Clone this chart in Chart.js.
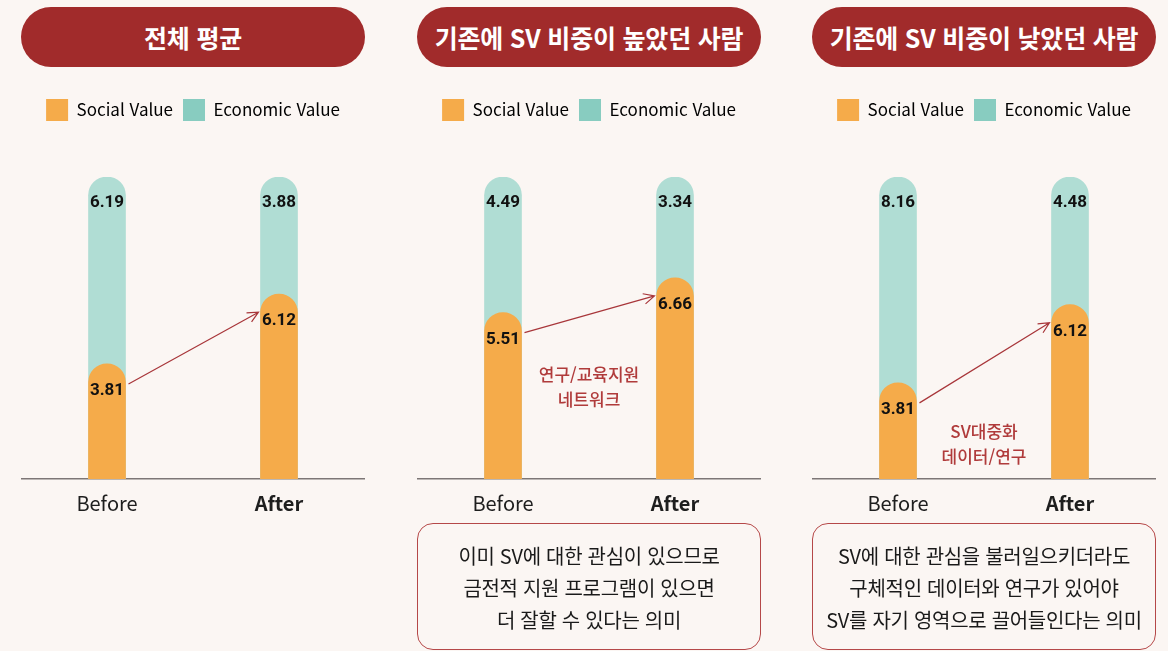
<!DOCTYPE html>
<html lang="ko">
<head>
<meta charset="utf-8">
<script src="https://cdn.jsdelivr.net/npm/chart.js@4.4.1/dist/chart.umd.min.js"></script>
<style>
  body { margin: 0; width: 1168px; height: 651px; overflow: hidden; position: relative; background: #fbf6f3; font-family: 'Noto Sans CJK KR', sans-serif; }
  .pill { position: absolute; top: 7px; width: 344px; height: 60px; border-radius: 30px; background: #a12b2b; color: #fff; font-weight: 700; font-size: 25px; letter-spacing: -0.2px; display: flex; align-items: center; justify-content: center; }
  .wrap { position: absolute; top: 89px; width: 344px; height: 436px; }
  .summary { position: absolute; top: 523px; width: 344px; height: 127px; box-sizing: border-box; border: 1.5px solid #b54848; border-radius: 16px; text-align: center; font-size: 20px; letter-spacing: -0.3px; line-height: 32px; color: #1a1a1a; padding-top: 16px; }
</style>
</head>
<body>
<script>
const categories = ['Before', 'After'];
const panelTitles = ['전체 평균', '기존에 SV 비중이 높았던 사람', '기존에 SV 비중이 낮았던 사람'];
const socialValues = [[3.81, 6.12], [5.51, 6.66], [3.81, 6.12]];
const economicValues = [[6.19, 3.88], [4.49, 3.34], [8.16, 4.48]];
const arrowNotes = [[], ['연구/교육지원', '네트워크'], ['SV대중화', '데이터/연구']];
const summaryLines = [
    [],
    ['이미 SV에 대한 관심이 있으므로', '금전적 지원 프로그램이 있으면', '더 잘할 수 있다는 의미'],
    ['SV에 대한 관심을 불러일으키더라도', '구체적인 데이터와 연구가 있어야', 'SV를 자기 영역으로 끌어들인다는 의미']
];

// layout only
const panelLeft = [21, 417, 812];
const noteLevel = [0, 0.345, 0.157];
const ORANGE = '#f5ab4a';
const TEAL = '#b0ddd4';
const TEAL_KEY = '#88ccc0';
const RED = '#a8363a';

// push the plot area down below the legend
const legendSpace = {
    id: 'legendSpace',
    beforeInit(chart) {
        const fit = chart.legend.fit;
        chart.legend.fit = function () {
            fit.call(this);
            this.height = 88;
        };
    }
};

function makeOverlay(p) {
    return {
        id: 'overlay' + p,
        afterDatasetsDraw(chart) {
            const ctx = chart.ctx;
            const social = chart.getDatasetMeta(0).data;
            const econ = chart.getDatasetMeta(1).data;
            ctx.save();
            ctx.font = 'bold 17px Roboto';
            ctx.fillStyle = '#111';
            ctx.textAlign = 'center';
            ctx.textBaseline = 'middle';
            social.forEach((bar, i) => {
                ctx.fillText(socialValues[p][i].toFixed(2), bar.x, bar.y + 27);
                ctx.fillText(economicValues[p][i].toFixed(2), econ[i].x, econ[i].y + 26);
            });

            // arrow Before -> After
            const a = social[0], b = social[1];
            const x1 = a.x + a.width / 2 + 3, y1 = a.y + 20;
            const x2 = b.x - b.width / 2 - 2, y2 = b.y + 18;
            const ang = Math.atan2(y2 - y1, x2 - x1);
            ctx.strokeStyle = RED;
            ctx.lineWidth = 1.2;
            ctx.beginPath();
            ctx.moveTo(x1, y1);
            ctx.lineTo(x2, y2);
            ctx.moveTo(x2 - 12 * Math.cos(ang - 0.45), y2 - 12 * Math.sin(ang - 0.45));
            ctx.lineTo(x2, y2);
            ctx.lineTo(x2 - 12 * Math.cos(ang + 0.45), y2 - 12 * Math.sin(ang + 0.45));
            ctx.stroke();

            if (arrowNotes[p].length) {
                const cx = (a.x + b.x) / 2;
                const y0 = chart.scales.y.getPixelForValue(noteLevel[p]);
                ctx.font = '500 17px "Noto Sans CJK KR"';
                ctx.fillStyle = '#b03b3b';
                arrowNotes[p].forEach((line, i) => ctx.fillText(line, cx, y0 + i * 25));
            }
            ctx.restore();
        }
    };
}

panelTitles.forEach((title, p) => {
    const pill = document.createElement('div');
    pill.className = 'pill';
    pill.style.left = panelLeft[p] + 'px';
    pill.textContent = title;
    document.body.appendChild(pill);

    const wrap = document.createElement('div');
    wrap.className = 'wrap';
    wrap.style.left = panelLeft[p] + 'px';
    const canvas = document.createElement('canvas');
    canvas.width = 344;
    canvas.height = 436;
    wrap.appendChild(canvas);
    document.body.appendChild(wrap);

    if (summaryLines[p].length) {
        const box = document.createElement('div');
        box.className = 'summary';
        box.style.left = panelLeft[p] + 'px';
        box.innerHTML = summaryLines[p].join('<br>');
        document.body.appendChild(box);
    }

    // share of each person's total, so every bar is full height
    const socialShare = socialValues[p].map((v, i) => v / (v + economicValues[p][i]));
    const totalShare = socialValues[p].map((v, i) => (v + economicValues[p][i]) / (v + economicValues[p][i]));

    new Chart(canvas.getContext('2d'), {
        type: 'bar',
        data: {
            labels: categories,
            datasets: [
                { label: 'Social Value', data: socialShare, backgroundColor: ORANGE, order: 0 },
                { label: 'Economic Value', data: totalShare, backgroundColor: TEAL, order: 1 }
            ]
        },
        options: {
            responsive: false,
            animation: false,
            devicePixelRatio: 1,
            layout: { padding: 0 },
            datasets: {
                bar: { grouped: false, barThickness: 37, borderRadius: 18.5, borderSkipped: 'start' }
            },
            scales: {
                x: {
                    grid: { display: false, drawTicks: false },
                    border: { display: true, color: '#7d7676', width: 1.5 },
                    ticks: {
                        padding: 12,
                        color: '#1e1e1e',
                        font: (c) => ({ family: 'Noto Sans CJK KR', size: 20, weight: c.index === 1 ? 'bold' : 'normal' })
                    },
                    afterFit(scale) { scale.height = 46; }
                },
                y: { display: false, min: 0, max: 1 }
            },
            plugins: {
                tooltip: { enabled: false },
                legend: {
                    position: 'top',
                    labels: {
                        boxWidth: 22,
                        boxHeight: 22,
                        padding: 10,
                        color: '#222',
                        font: { family: 'Noto Sans CJK KR', size: 17 },
                        generateLabels: () => [
                            { text: 'Social Value', fillStyle: ORANGE, strokeStyle: ORANGE, lineWidth: 0, datasetIndex: 0 },
                            { text: 'Economic Value', fillStyle: TEAL_KEY, strokeStyle: TEAL_KEY, lineWidth: 0, datasetIndex: 1 }
                        ]
                    }
                }
            }
        },
        plugins: [legendSpace, makeOverlay(p)]
    });
});
</script>
</body>
</html>
